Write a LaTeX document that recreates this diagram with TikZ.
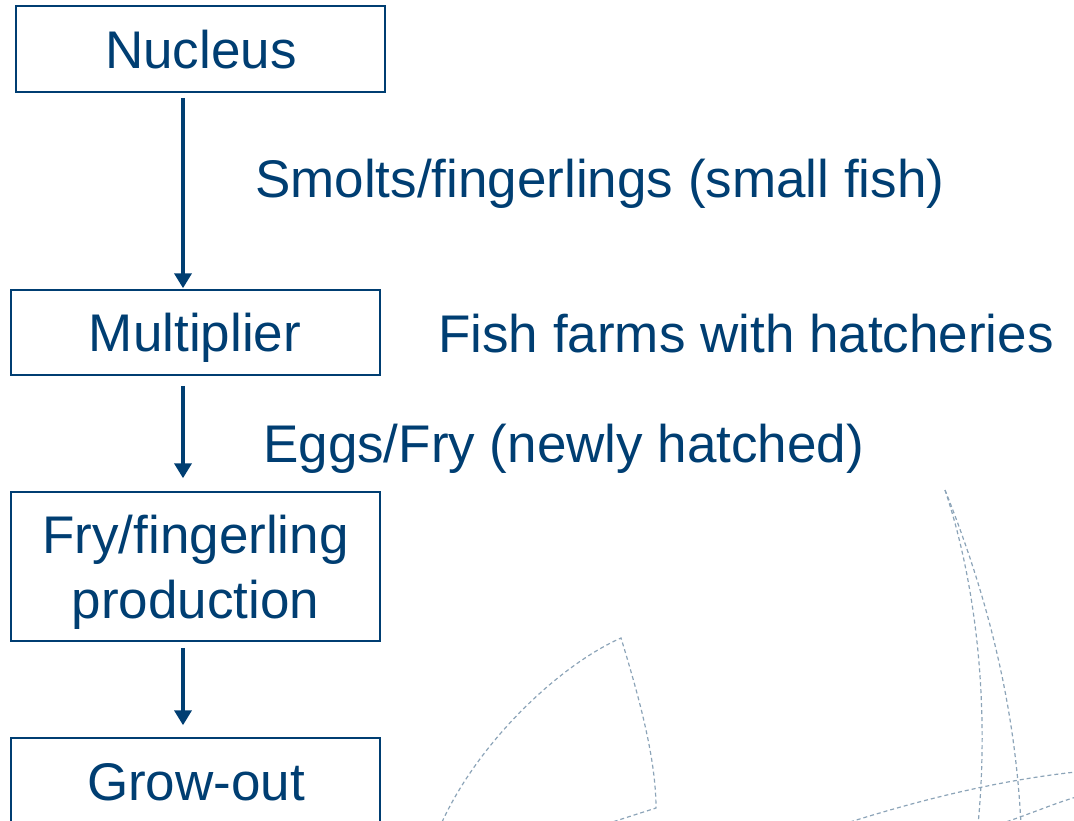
\documentclass[tikz,border=0pt]{standalone}
\usepackage{fontspec}
\setmainfont{Liberation Sans}
\usetikzlibrary{arrows.meta}
\definecolor{navy}{RGB}{0,62,114}
\definecolor{faint}{RGB}{140,164,184}
\tikzset{
  stage/.style={draw=navy, line width=1.5pt, inner sep=0pt, minimum width=369pt},
  lbl/.style={text=navy, font=\fontsize{53}{60}\selectfont, inner sep=0pt, anchor=base},
  note/.style={lbl, anchor=base west},
  flow/.style={draw=navy, line width=4pt, -{Triangle[width=17pt,length=15pt]}},
  trace/.style={draw=faint, line width=1.2pt, dash pattern=on 4pt off 3pt}
}
\begin{document}
\begin{tikzpicture}[x=1pt,y=-1pt]
\useasboundingbox (0,0) rectangle (1074,820);
\clip (0,0) rectangle (1074,820);

% decorative dashed outlines
\draw[trace] (442,822) .. controls (480,740) and (560,665) .. (621,638)
             .. controls (640,700) and (656,760) .. (656,808) -- (600,826);
\draw[trace] (945,490) .. controls (975,580) and (990,700) .. (978,825);
\draw[trace] (945,490) .. controls (985,590) and (1015,700) .. (1021,825);
\draw[trace] (850,822) .. controls (920,800) and (1000,780) .. (1076,772);
\draw[trace] (1000,824) .. controls (1030,814) and (1050,805) .. (1076,797);

% stage boxes
\node[stage, minimum height=86pt]  (nuc)  at (200.5,49)  {};
\node[stage, minimum height=85pt]  (mul)  at (195.5,332.5) {};
\node[stage, minimum height=149pt] (fry)  at (195.5,566.5) {};
\node[stage, minimum height=86pt]  (grow) at (195.5,781) {};

% box labels
\node[lbl] (tnuc)  at (201,68.5)  {Nucleus};
\node[lbl] (tmul)  at (195,351.5) {Multiplier};
\node[lbl] (tfry1) at (195.5,553) {Fry/fingerling};
\node[lbl] (tfry2) at (195.5,618) {production};
\node[lbl] (tgrow) at (196,800)   {Grow-out};

% side notes
\node[note] (n1) at (255,197) {Smolts/fingerlings (small fish)};
\node[note] (n2) at (438,352) {Fish farms with hatcheries};
\node[note] (n3) at (263,462) {Eggs/Fry (newly hatched)};

% flow arrows along a common vertical line
\coordinate (ax) at (183,0);
\draw[flow, shorten <=5pt,  shorten >=1pt]  (nuc.south -| ax) -- (mul.north -| ax);
\draw[flow, shorten <=10pt, shorten >=13pt] (mul.south -| ax) -- (fry.north -| ax);
\draw[flow, shorten <=6pt,  shorten >=12pt] (fry.south -| ax) -- (grow.north -| ax);
\end{tikzpicture}
\end{document}
